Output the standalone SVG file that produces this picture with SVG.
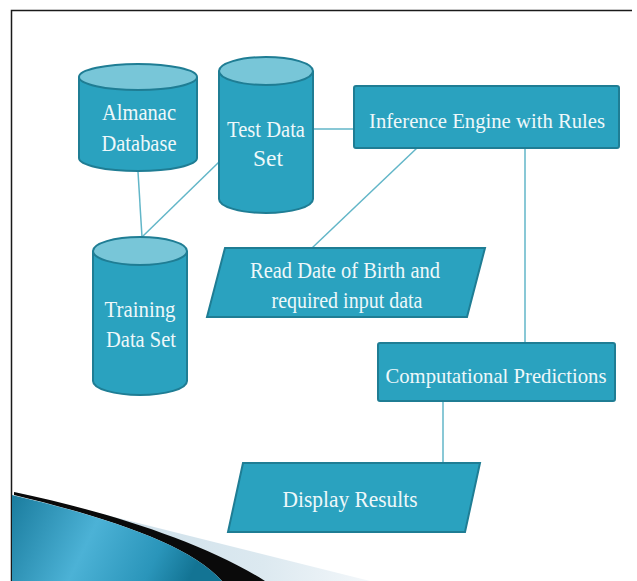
<svg xmlns="http://www.w3.org/2000/svg" width="637" height="581" viewBox="0 0 637 581">
<defs>
<style>
.shape{fill:#2aa2bf;stroke:#1f7d94;stroke-width:2}
.top{fill:#78c6d8;stroke:#1f7d94;stroke-width:2}
.lbl{font-family:"Liberation Serif","Times New Roman",serif;font-size:23px;fill:#eef8fa;text-anchor:middle}
.sm{font-size:22px}
.conn{stroke:#62b6c8;stroke-width:1.5;fill:none}
</style>
<linearGradient id="blue" x1="0" y1="0" x2="1" y2="0.2">
<stop offset="0" stop-color="#1a7c9e"/>
<stop offset="0.45" stop-color="#4cb2d6"/>
<stop offset="0.8" stop-color="#2a95ba"/>
<stop offset="1" stop-color="#137494"/>
</linearGradient>
<linearGradient id="pale" x1="0" y1="0" x2="1" y2="0">
<stop offset="0" stop-color="#c4d9e5"/>
<stop offset="0.7" stop-color="#dce9f0"/>
<stop offset="1" stop-color="#f3f7fa"/>
</linearGradient>
</defs>
<rect width="637" height="581" fill="#ffffff"/>
<g id="frame">
<path d="M11.5 581 V10.5 H632" fill="none" stroke="#1a1a1a" stroke-width="1.5"/>
</g>
<g id="decoration">
<path d="M14 492 L370 581 L262 581 Z" fill="url(#pale)"/>
<path d="M14 492 C100 510 200 540 265 581 L222 581 C190 545 110 518 14 495 Z" fill="#0a0a0a"/>
<path d="M12 495 C110 518 190 545 222 581 L12 581 Z" fill="url(#blue)"/>
</g>
<g id="connectors">
<line class="conn" x1="138" y1="172" x2="142" y2="237"/>
<line class="conn" x1="219" y1="162" x2="142" y2="237"/>
<line class="conn" x1="313" y1="129" x2="354" y2="129"/>
<line class="conn" x1="417" y1="148" x2="312" y2="248"/>
<line class="conn" x1="525" y1="148" x2="525" y2="343"/>
<line class="conn" x1="443" y1="401" x2="443" y2="463"/>
</g>
<g id="almanac">
<path class="shape" d="M79 77 V158 A59 13 0 0 0 197 158 V77"/>
<ellipse class="top" cx="138" cy="77" rx="59" ry="13"/>
<text class="lbl" x="139" y="120" textLength="74" lengthAdjust="spacingAndGlyphs">Almanac</text>
<text class="lbl" x="139" y="151" textLength="75" lengthAdjust="spacingAndGlyphs">Database</text>
</g>
<g id="testdata">
<path class="shape" d="M219 71 V199 A47 14 0 0 0 313 199 V71"/>
<ellipse class="top" cx="266" cy="71" rx="47" ry="14"/>
<text class="lbl" x="266" y="137" textLength="78" lengthAdjust="spacingAndGlyphs">Test Data</text>
<text class="lbl" x="268" y="166" textLength="30" lengthAdjust="spacingAndGlyphs">Set</text>
</g>
<g id="training">
<path class="shape" d="M93 251 V381 A47 14 0 0 0 187 381 V251"/>
<ellipse class="top" cx="140" cy="251" rx="47" ry="14"/>
<text class="lbl" x="140" y="317" textLength="71" lengthAdjust="spacingAndGlyphs">Training</text>
<text class="lbl" x="141" y="347" textLength="70" lengthAdjust="spacingAndGlyphs">Data Set</text>
</g>
<g id="inference">
<rect class="shape" x="354" y="86" width="265" height="62" rx="2"/>
<text class="lbl sm" x="487" y="128" textLength="236" lengthAdjust="spacingAndGlyphs">Inference Engine with Rules</text>
</g>
<g id="readdob">
<polygon class="shape" points="225,248 485,248 467,317 207,317"/>
<text class="lbl" x="345" y="278" textLength="190" lengthAdjust="spacingAndGlyphs">Read Date of Birth and</text>
<text class="lbl" x="347" y="308" textLength="151" lengthAdjust="spacingAndGlyphs">required input data</text>
</g>
<g id="computational">
<rect class="shape" x="378" y="343" width="237" height="58" rx="2"/>
<text class="lbl sm" x="496" y="383" textLength="221" lengthAdjust="spacingAndGlyphs">Computational Predictions</text>
</g>
<g id="display">
<polygon class="shape" points="243,463 480,463 465,532 228,532"/>
<text class="lbl" x="350" y="507" textLength="135" lengthAdjust="spacingAndGlyphs">Display Results</text>
</g>
</svg>
